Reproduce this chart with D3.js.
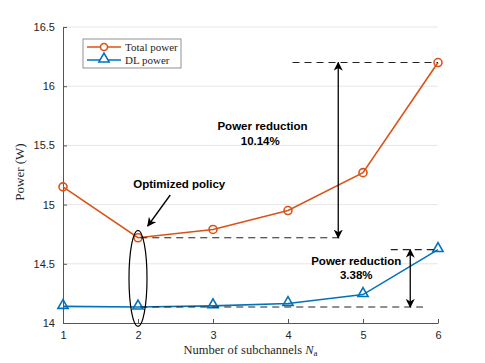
<!DOCTYPE html>
<html>
<head>
<meta charset="utf-8">
<script src="https://cdn.jsdelivr.net/npm/d3@7"></script>
<style>
  body { margin: 0; background: #fff; }
  .tick text { font-family: "Liberation Sans", Arial, sans-serif; font-size: 11px; fill: #262626; }
  .serif { font-family: "Liberation Serif", "DejaVu Serif", serif; fill: #262626; }
  .note { font-family: "Liberation Sans", Arial, sans-serif; font-size: 11.5px; font-weight: bold; fill: #000; }
</style>
</head>
<body>
<svg id="chart" width="485" height="363"></svg>
<script>
// subchannel counts and measured powers (W)
var subchannels = [1, 2, 3, 4, 5, 6];
var totalPower = [15.15, 14.72, 14.79, 14.95, 15.27, 16.20];
var dlPower = [14.14, 14.135, 14.145, 14.165, 14.24, 14.62];
var yTicks = [14, 14.5, 15, 15.5, 16, 16.5];
var seriesNames = ["Total power", "DL power"];

var orange = "#D95319", blue = "#0072BD";

// plot area
var margin = {top: 27, right: 47, bottom: 40, left: 63},
    width = 485 - margin.left - margin.right,
    height = 363 - margin.top - margin.bottom;

var svg = d3.select("#chart"),
    g = svg.append("g")
        .attr("transform", "translate(" + margin.left + "," + margin.top + ")");

var x = d3.scaleLinear().domain([1, 6]).range([0, width]);
var y = d3.scaleLinear().domain([14, 16.5]).range([height, 0]);

// grid lines
g.selectAll(".grid")
    .data(yTicks.slice(1))
    .enter().append("line")
    .attr("x1", 0).attr("x2", width)
    .attr("y1", function(d) { return y(d); })
    .attr("y2", function(d) { return y(d); })
    .attr("stroke", "#e6e6e6").attr("stroke-width", 1);

// axes, ticks point inward like matlab
var xAxis = g.append("g")
    .attr("transform", "translate(0," + height + ")")
    .call(d3.axisBottom(x).tickValues(subchannels).tickFormat(d3.format("d")).tickSizeInner(-4).tickSizeOuter(0).tickPadding(8));
var yAxis = g.append("g")
    .call(d3.axisLeft(y).tickValues(yTicks).tickFormat(d3.format("")).tickSizeInner(-4).tickSizeOuter(0).tickPadding(8));
[xAxis, yAxis].forEach(function(a) {
    a.select(".domain").attr("stroke", "#555");
    a.selectAll(".tick line").attr("stroke", "#555");
});

// axis labels
svg.append("text")
    .attr("class", "serif")
    .attr("transform", "translate(24,172) rotate(-90)")
    .attr("text-anchor", "middle")
    .attr("font-size", 13)
    .text("Power (W)");
var xl = svg.append("text")
    .attr("class", "serif")
    .attr("x", margin.left + width / 2)
    .attr("y", 354)
    .attr("text-anchor", "middle")
    .attr("font-size", 12.5);
xl.append("tspan").text("Number of subchannels ");
xl.append("tspan").attr("font-style", "italic").text("N");
xl.append("tspan").attr("font-size", 9).attr("dy", 2).text("a");

// series
var line = d3.line()
    .x(function(d, i) { return x(subchannels[i]); })
    .y(function(d) { return y(d); });

g.append("path").datum(totalPower)
    .attr("d", line).attr("fill", "none").attr("stroke", orange).attr("stroke-width", 1.6);
g.append("path").datum(dlPower)
    .attr("d", line).attr("fill", "none").attr("stroke", blue).attr("stroke-width", 1.6);

var tri = d3.symbol().type(d3.symbolTriangle).size(45);

g.selectAll(".tp")
    .data(totalPower)
    .enter().append("circle")
    .attr("cx", function(d, i) { return x(subchannels[i]); })
    .attr("cy", function(d) { return y(d); })
    .attr("r", 4)
    .attr("fill", "none").attr("stroke", orange).attr("stroke-width", 1.6);

g.selectAll(".dl")
    .data(dlPower)
    .enter().append("path")
    .attr("d", tri)
    .attr("transform", function(d, i) { return "translate(" + x(subchannels[i]) + "," + (y(d) - 1) + ")"; })
    .attr("fill", "none").attr("stroke", blue).attr("stroke-width", 1.6);

// arrow heads
var defs = svg.append("defs");
defs.append("marker")
    .attr("id", "ah")
    .attr("viewBox", "0 0 10 10")
    .attr("refX", 9).attr("refY", 5)
    .attr("markerWidth", 7).attr("markerHeight", 7)
    .attr("orient", "auto-start-reverse")
    .append("path").attr("d", "M0,0 L10,5 L0,10 L3,5 Z").attr("fill", "#000");

function dash(x1, x2, yv) {
    g.append("line")
        .attr("x1", x1).attr("x2", x2)
        .attr("y1", y(yv)).attr("y2", y(yv))
        .attr("stroke", "#222").attr("stroke-width", 1.2)
        .attr("stroke-dasharray", "7,5");
}
function dblArrow(xp, y1, y2) {
    g.append("line")
        .attr("x1", xp).attr("x2", xp)
        .attr("y1", y(y1)).attr("y2", y(y2))
        .attr("stroke", "#000").attr("stroke-width", 1.3)
        .attr("marker-start", "url(#ah)").attr("marker-end", "url(#ah)");
}

// total power reduction
dash(x(4.06), x(6), totalPower[5]);
dash(x(2.03), x(4.72), totalPower[1]);
dblArrow(x(4.67), totalPower[5], totalPower[1]);
g.append("text").attr("class", "note").attr("text-anchor", "middle")
    .attr("x", x(3.66)).attr("y", 103).text("Power reduction");
g.append("text").attr("class", "note").attr("text-anchor", "middle")
    .attr("x", x(3.63)).attr("y", 118).text("10.14%");

// dl power reduction
dash(x(5.37), x(6), dlPower[5]);
dash(x(2.03), x(5.8), dlPower[1]);
dblArrow(x(5.63), dlPower[5], dlPower[1]);
g.append("text").attr("class", "note").attr("text-anchor", "middle")
    .attr("x", x(4.91)).attr("y", 238).text("Power reduction");
g.append("text").attr("class", "note").attr("text-anchor", "middle")
    .attr("x", x(4.91)).attr("y", 252).text("3.38%");

// optimized policy
g.append("ellipse")
    .attr("cx", x(2)).attr("cy", (y(14.72) + y(14.0)) / 2 - 2)
    .attr("rx", 9).attr("ry", 48)
    .attr("fill", "none").attr("stroke", "#000").attr("stroke-width", 1.2);
g.append("text").attr("class", "note").attr("text-anchor", "middle")
    .attr("x", x(2.55)).attr("y", 161).text("Optimized policy");
g.append("line")
    .attr("x1", x(2.43)).attr("y1", 168)
    .attr("x2", x(2.13)).attr("y2", 199)
    .attr("stroke", "#000").attr("stroke-width", 1.3)
    .attr("marker-end", "url(#ah)");

// legend
var legend = svg.append("g").attr("transform", "translate(83,39)");
legend.append("rect")
    .attr("width", 98).attr("height", 29)
    .attr("fill", "#fff").attr("stroke", "#777").attr("stroke-width", 0.8);
var items = legend.selectAll(".item")
    .data(seriesNames)
    .enter().append("g")
    .attr("transform", function(d, i) { return "translate(0," + (8 + i * 13) + ")"; });
items.append("line")
    .attr("x1", 4).attr("x2", 38)
    .attr("stroke", function(d, i) { return i ? blue : orange; })
    .attr("stroke-width", 1.6);
items.filter(function(d, i) { return i === 0; }).append("circle")
    .attr("cx", 21).attr("r", 3.5)
    .attr("fill", "#fff").attr("stroke", orange).attr("stroke-width", 1.6);
items.filter(function(d, i) { return i === 1; }).append("path")
    .attr("d", tri).attr("transform", "translate(21,-1)")
    .attr("fill", "#fff").attr("stroke", blue).attr("stroke-width", 1.6);
items.append("text")
    .attr("class", "serif")
    .attr("x", 42).attr("dy", "0.35em")
    .attr("font-size", 11)
    .text(function(d) { return d; });
</script>
</body>
</html>
